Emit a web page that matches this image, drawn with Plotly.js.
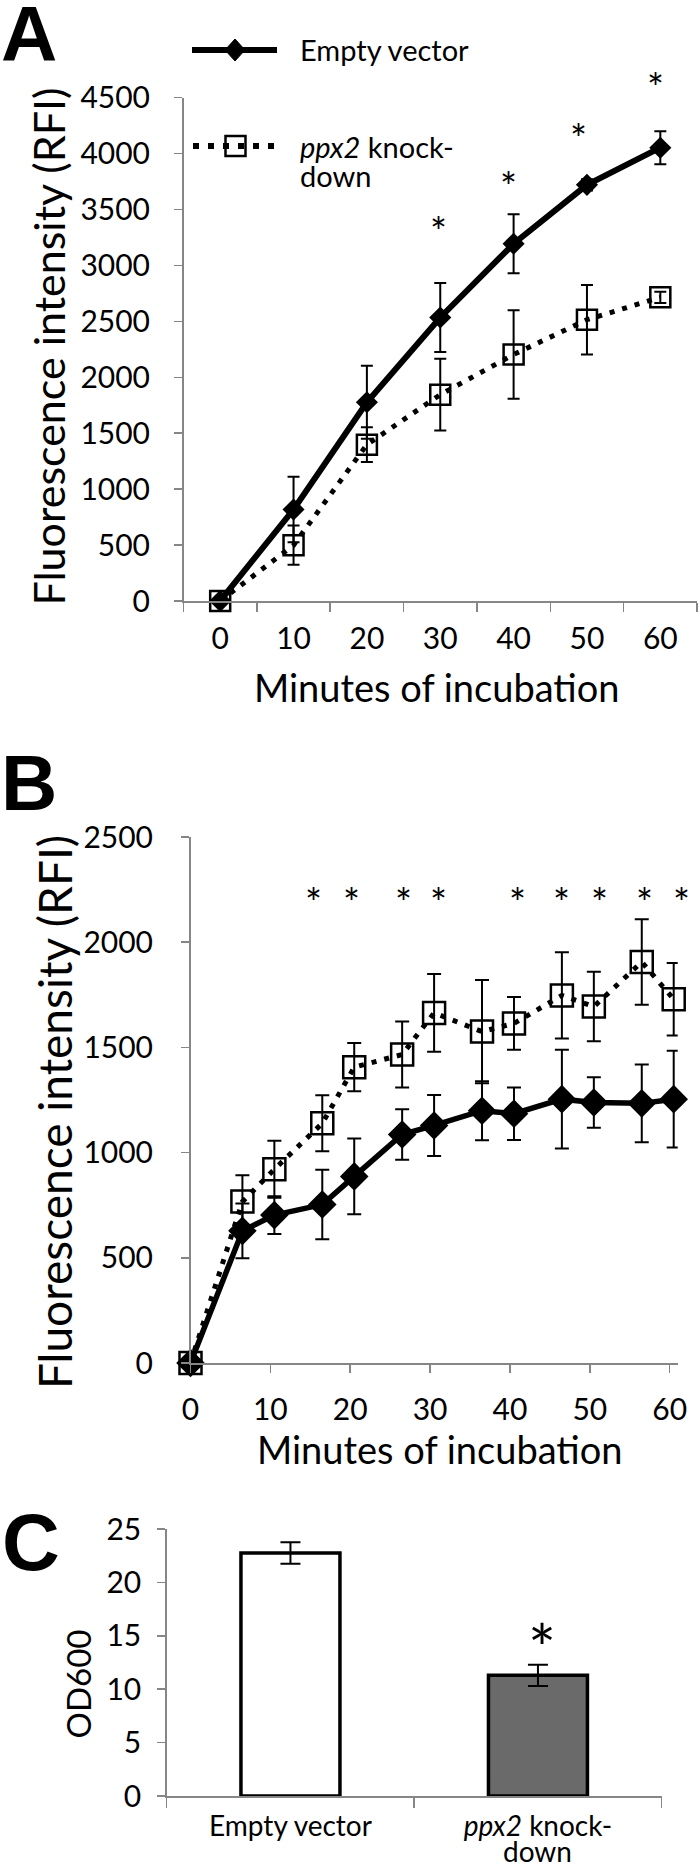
<!DOCTYPE html>
<html><head><meta charset="utf-8">
<script src="https://cdn.plot.ly/plotly-3.0.1.min.js"></script>
<style>html,body{margin:0;padding:0;background:#fff}</style>
</head><body>
<div id="chart" style="width:700px;height:1870px"></div>
<script>
// ---------- Panel A ----------
const minutesA = ['0', '10', '20', '30', '40', '50', '60'];
const emptyA = [0, 818, 1777, 2535, 3194, 3721, 4053];
const emptyAErr = [0, 292, 327, 308, 263, 50, 148];
const ppx2A = [0, 499, 1398, 1845, 2204, 2515, 2715];
const ppx2AErr = [0, 175, 155, 320, 395, 310, 50];
const starsAx = [2.97, 3.93, 4.89, 5.94];
const starsAy = [3374, 3773, 4205, 4660];

// ---------- Panel B ----------
const minutesB = [0, 6.5, 10.5, 16.5, 20.5, 26.5, 30.5, 36.5, 40.5, 46.5, 50.5, 56.5, 60.5];
const emptyB = [0, 628, 703, 753, 887, 1086, 1129, 1199, 1185, 1254, 1238, 1234, 1254];
const emptyBErr = [0, 130, 90, 165, 180, 120, 145, 140, 125, 235, 120, 185, 230];
const ppx2B = [0, 767, 921, 1139, 1406, 1466, 1664, 1575, 1614, 1747, 1694, 1906, 1729];
const ppx2BErr = [0, 125, 135, 133, 115, 157, 185, 245, 125, 205, 165, 203, 172];
const starsBx = [15.4, 20.1, 26.7, 31.0, 40.9, 46.5, 51.2, 56.8, 61.5];
const starsBy = [2225, 2225, 2225, 2225, 2225, 2225, 2225, 2225, 2225];

// ---------- Panel C ----------
const groupsC = ['Empty vector', 'ppx2 knock-down'];
const groupLabelsC = ['Empty vector', '<i>ppx2</i> knock-'];
const groupLabelsC2 = ['', 'down'];
const od600 = [22.75, 11.3];
const od600Err = [1.0, 1.0];
const starCgroup = 'ppx2 knock-down';
const starCy = 15.2;

const W = 700, H = 1870;
const X = p => p / W;
const Y = p => 1 - p / H;
const FONT = 'Lato, "Open Sans", sans-serif';
const LETTER = '"Liberation Sans", Arial, sans-serif';
const AX = '#868686';

// plot-area pixel boxes
const boxA = {l: 183.5, r: 697, t: 97.7, b: 601};
const boxB = {l: 190.5, r: 677.7, t: 837, b: 1363};
const boxC = {l: 166.7, r: 661.7, t: 1529, b: 1796};
const rangeAy = [0, 4500], rangeBx = [0, 61], rangeBy = [0, 2500], rangeCy = [0, 25];

const errStyle = (arr, w) => ({type: 'data', array: arr, visible: true, color: 'black', thickness: 2, width: w});

const traces = [
  {x: minutesA, y: ppx2A, xaxis: 'x', yaxis: 'y', mode: 'lines+markers', cliponaxis: false,
   line: {color: 'black', width: 5, dash: '5px,8px'},
   marker: {symbol: 'square-open', size: 20, color: 'black', line: {width: 2.5, color: 'black'}},
   error_y: errStyle(ppx2AErr, 6), showlegend: false},
  {x: minutesA, y: emptyA, xaxis: 'x', yaxis: 'y', mode: 'lines+markers', cliponaxis: false,
   line: {color: 'black', width: 6},
   marker: {symbol: 'diamond', size: 17, color: 'black'},
   error_y: errStyle(emptyAErr, 6), showlegend: false},

  {x: minutesB, y: ppx2B, xaxis: 'x2', yaxis: 'y2', mode: 'lines+markers', cliponaxis: false,
   line: {color: 'black', width: 5, dash: '5px,8px'},
   marker: {symbol: 'square-open', size: 22, color: 'black', line: {width: 2.5, color: 'black'}},
   error_y: errStyle(ppx2BErr, 7), showlegend: false},
  {x: minutesB, y: emptyB, xaxis: 'x2', yaxis: 'y2', mode: 'lines+markers', cliponaxis: false,
   line: {color: 'black', width: 5.5},
   marker: {symbol: 'diamond', size: 22, color: 'black'},
   error_y: errStyle(emptyBErr, 7), showlegend: false},

  {x: groupsC, y: od600, xaxis: 'x3', yaxis: 'y3', type: 'bar', cliponaxis: false,
   marker: {color: ['#ffffff', '#6a6a6a'], line: {color: 'black', width: 3.5}},
   error_y: errStyle(od600Err, 10), showlegend: false}
];

const axisCommon = {showline: true, linecolor: AX, linewidth: 1.5, ticks: 'outside', tickcolor: AX,
  tickwidth: 1.5, showgrid: false, zeroline: false, tickfont: {family: FONT, size: 30, color: 'black'}, fixedrange: true};

const layout = {
  width: W, height: H, margin: {l: 0, r: 0, t: 0, b: 0}, paper_bgcolor: 'white', plot_bgcolor: 'rgba(0,0,0,0)',
  font: {family: FONT, color: 'black'}, showlegend: false, bargap: 0.6,
  xaxis: Object.assign({}, axisCommon, {domain: [X(boxA.l), X(boxA.r)], anchor: 'y', type: 'category',
    range: [-0.5, 6.5], tickson: 'boundaries', ticklen: 9, ticklabelstandoff: 10}),
  yaxis: Object.assign({}, axisCommon, {domain: [Y(boxA.b), Y(boxA.t)], anchor: 'x', range: rangeAy,
    dtick: 500, ticklen: 8, ticklabelstandoff: 18}),
  xaxis2: Object.assign({}, axisCommon, {domain: [X(boxB.l), X(boxB.r)], anchor: 'y2', range: rangeBx,
    tick0: 0, dtick: 10, ticklen: 8, ticklabelstandoff: 11}),
  yaxis2: Object.assign({}, axisCommon, {domain: [Y(boxB.b), Y(boxB.t)], anchor: 'x2', range: rangeBy,
    dtick: 500, ticklen: 8, ticklabelstandoff: 22}),
  xaxis3: Object.assign({}, axisCommon, {domain: [X(boxC.l), X(boxC.r)], anchor: 'y3', type: 'category',
    range: [-0.5, 1.5], tickson: 'boundaries', ticklen: 10, tickvals: groupsC, ticktext: groupLabelsC,
    tickfont: {family: FONT, size: 28, color: 'black'}, ticklabelstandoff: 5}),
  yaxis3: Object.assign({}, axisCommon, {domain: [Y(boxC.b), Y(boxC.t)], anchor: 'x3', range: rangeCy,
    dtick: 5, ticklen: 8, ticklabelstandoff: 10}),
  shapes: [
    {type: 'line', xref: 'paper', yref: 'paper', x0: X(192), x1: X(277), y0: Y(50), y1: Y(50),
     line: {color: 'black', width: 6}},
    {type: 'path', xref: 'paper', yref: 'paper', xsizemode: 'pixel', ysizemode: 'pixel',
     xanchor: X(235), yanchor: Y(50), path: 'M -10 0 L 0 11 L 10 0 L 0 -11 Z',
     fillcolor: 'black', line: {color: 'black', width: 1}},
    {type: 'line', xref: 'paper', yref: 'paper', x0: X(193), x1: X(277), y0: Y(146), y1: Y(146),
     line: {color: 'black', width: 6, dash: '6px,9px'}},
    {type: 'rect', xref: 'paper', yref: 'paper', xsizemode: 'pixel', ysizemode: 'pixel',
     xanchor: X(235.5), yanchor: Y(146), x0: -10, x1: 10, y0: -10, y1: 10,
     fillcolor: 'rgba(0,0,0,0)', line: {color: 'black', width: 2.5}}
  ],
  annotations: []
};

const ann = layout.annotations;
const txt = (text, x, y, size, opts) => ann.push(Object.assign({text, xref: 'paper', yref: 'paper',
  x: X(x), y: Y(y), xanchor: 'center', yanchor: 'middle', showarrow: false,
  font: {family: FONT, size, color: 'black'}}, opts || {}));

// Panel letters
txt('<b>A</b>', -1, 34, 78, {xanchor: 'left', font: {family: LETTER, size: 78, color: 'black'}});
txt('<b>B</b>', -1, 783, 78, {xanchor: 'left', font: {family: LETTER, size: 78, color: 'black'}});
txt('<b>C</b>', 0, 1542, 80, {xanchor: 'left', font: {family: LETTER, size: 80, color: 'black'}});

// Legend text
txt('Empty vector', 298, 50, 29, {xanchor: 'left'});
txt('<i>ppx2</i> knock-', 298, 146, 29, {xanchor: 'left'});
txt('down', 298, 175, 29, {xanchor: 'left'});

// Axis titles
txt('Fluorescence intensity (RFI)', 47.5, 347, 43, {textangle: -90});
txt('Minutes of incubation', 437, 687, 38);
txt('Fluorescence intensity (RFI)', 54, 1112, 46, {textangle: -90});
txt('Minutes of incubation', 440, 1449, 38);
txt('OD600', 77.5, 1684, 33, {textangle: -90});
// second line of the C category label
groupLabelsC2.forEach((t, i) => { if (t) ann.push({text: t, x: groupsC[i], y: 0, xref: 'x3', yref: 'paper',
  showarrow: false, xanchor: 'center', yanchor: 'bottom', font: {family: FONT, size: 28, color: 'black'}}); });

// Significance stars (kept inside the axis range, overflow converted to a pixel shift)
function star(x, y, xa, ya, xr, yr, box, size, baseShift) {
  let xs = 0, ys = baseShift;
  let xc = x, yc = y;
  if (yr && y > yr[1]) { ys += (y - yr[1]) * (box.b - box.t) / (yr[1] - yr[0]); yc = yr[1]; }
  if (xr && x > xr[1]) { xs += (x - xr[1]) * (box.r - box.l) / (xr[1] - xr[0]); xc = xr[1]; }
  ann.push({text: '*', x: xc, y: yc, xref: xa, yref: ya, showarrow: false, xanchor: 'center', yanchor: 'middle',
    xshift: xs, yshift: ys, font: {family: FONT, size, color: 'black'}});
}
starsAx.forEach((sx, i) => star(sx, starsAy[i], 'x', 'y', null, rangeAy, boxA, 40, -8));
starsBx.forEach((sx, i) => star(sx, starsBy[i], 'x2', 'y2', rangeBx, rangeBy, boxB, 40, -8));
ann.push({text: '*', x: starCgroup, y: starCy, xref: 'x3', yref: 'y3', showarrow: false, xanchor: 'center',
  yanchor: 'middle', xshift: 4, yshift: -14, font: {family: FONT, size: 66, color: 'black'}});

Plotly.newPlot('chart', traces, layout, {staticPlot: true, displayModeBar: false});
</script>
</body></html>
